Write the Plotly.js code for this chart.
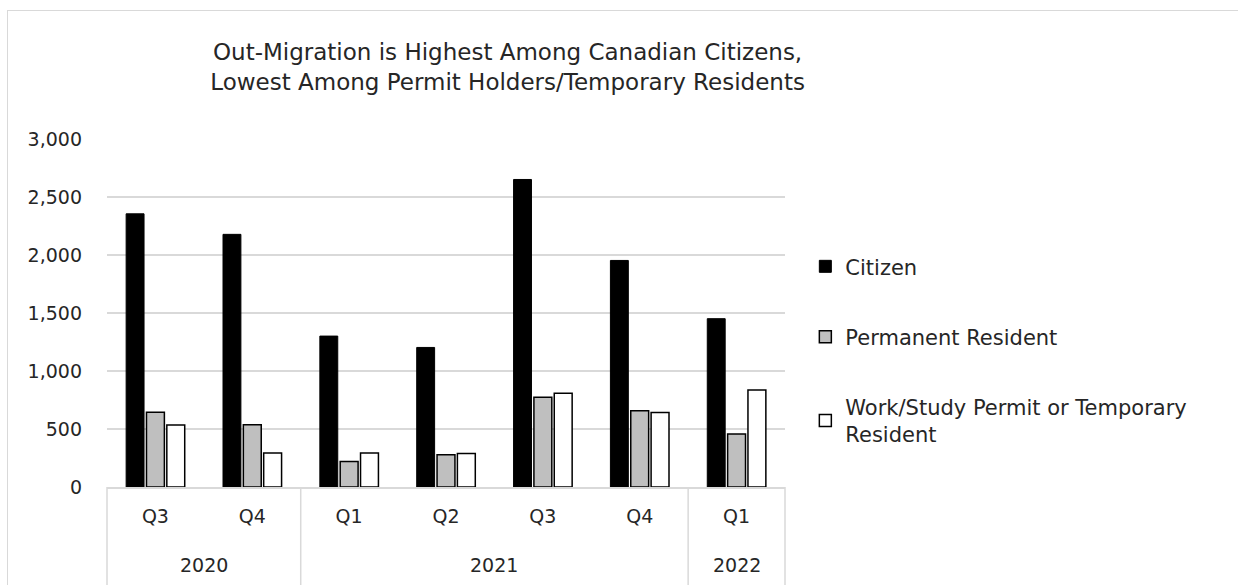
<!DOCTYPE html>
<html>
<head>
<meta charset="utf-8">
<script src="https://cdn.plot.ly/plotly-3.0.1.min.js"></script>
<style>
html,body{margin:0;padding:0;background:#fff;}
#wrap{position:absolute;left:0;top:0;width:1238px;height:585px;overflow:hidden;}
#frame{position:absolute;left:7px;top:10px;width:1240px;height:590px;border-left:1px solid #d9d9d9;border-top:1px solid #d9d9d9;pointer-events:none;}
#chart{position:absolute;left:0;top:0;width:1238px;height:585px;}
</style>
</head>
<body>
<div id="wrap"><div id="chart"></div><div id="frame"></div></div>
<script>
const years = ["2020","2020","2021","2021","2021","2021","2022"];
const quarters = ["Q3","Q4","Q1","Q2","Q3","Q4","Q1"];
const citizen = [2355, 2178, 1301, 1203, 2651, 1953, 1451];
const permanentResident = [645, 537, 219, 277, 773, 658, 456];
const workStudyTemp = [535, 294, 294, 288, 808, 643, 837];
const seriesNames = ["Citizen", "Permanent Resident", "Work/Study Permit or Temporary<br>Resident"];

const FONT = "'DejaVu Sans', sans-serif";
const TXT = '#262626';
const GRID = '#d9d9d9';

const cats = years.map((y, i) => y + ' ' + quarters[i]);
const N = cats.length;

// group boundaries from the years array
const groups = [];
years.forEach((y, i) => {
  if (i === 0 || y !== years[i - 1]) groups.push({year: y, start: i, end: i + 1});
  else groups[groups.length - 1].end = i + 1;
});

const shapes = [];
const annotations = [];
const bounds = new Set();
groups.forEach(g => { bounds.add(g.start); bounds.add(g.end); });
bounds.forEach(b => {
  shapes.push({type:'line', xref:'paper', yref:'paper', x0:b / N, x1:b / N, y0:0, y1:-0.3,
               line:{color:GRID, width:1.5}, layer:'below'});
});
groups.forEach(g => {
  annotations.push({xref:'paper', yref:'paper', x:(g.start + g.end) / 2 / N, y:-0.224,
                    xanchor:'center', yanchor:'middle', showarrow:false, text:g.year,
                    font:{family:FONT, size:19, color:TXT}});
});

const traces = [
  {type:'bar', x:cats, y:citizen, name:seriesNames[0], legendgroup:'a',
   marker:{color:'#000000', line:{color:'#000000', width:1}}},
  {type:'bar', x:cats, y:permanentResident, name:seriesNames[1], legendgroup:'b',
   marker:{color:'#bfbfbf', line:{color:'#000000', width:1.5}}},
  {type:'bar', x:cats, y:workStudyTemp, name:seriesNames[2], legendgroup:'c',
   marker:{color:'#ffffff', line:{color:'#000000', width:1.5}}}
];

const layout = {
  width:1238, height:585,
  margin:{l:107, r:453, t:139, b:98},
  paper_bgcolor:'#ffffff', plot_bgcolor:'#ffffff',
  font:{family:FONT, color:TXT, size:19},
  title:{text:'Out-Migration is Highest Among Canadian Citizens,<br>Lowest Among Permit Holders/Temporary Residents',
         font:{family:FONT, size:23, color:TXT}, x:0.41, xanchor:'center', y:0.898, yanchor:'top'},
  barmode:'group', bargap:0.37, bargroupgap:0.12,
  showlegend:true,
  legend:{x:1.03, xanchor:'left', y:0.692, yanchor:'top', traceorder:'grouped', tracegroupgap:40,
          font:{family:FONT, size:21, color:TXT}, itemwidth:30},
  xaxis:{type:'category', tickvals:cats, ticktext:quarters, showline:true, linecolor:GRID, linewidth:1.5,
         showgrid:false, ticks:'', ticklabelstandoff:12,
         tickfont:{family:FONT, size:19, color:TXT}, fixedrange:true},
  yaxis:{range:[0,3000], dtick:500, tickformat:',', showgrid:true, gridcolor:GRID, gridwidth:1.5,
         zeroline:false, showline:false, ticks:'', ticklabelstandoff:24,
         tickfont:{family:FONT, size:19, color:TXT}, fixedrange:true},
  shapes:shapes,
  annotations:annotations
};

Plotly.newPlot('chart', traces, layout, {displayModeBar:false, staticPlot:true});
</script>
</body>
</html>
